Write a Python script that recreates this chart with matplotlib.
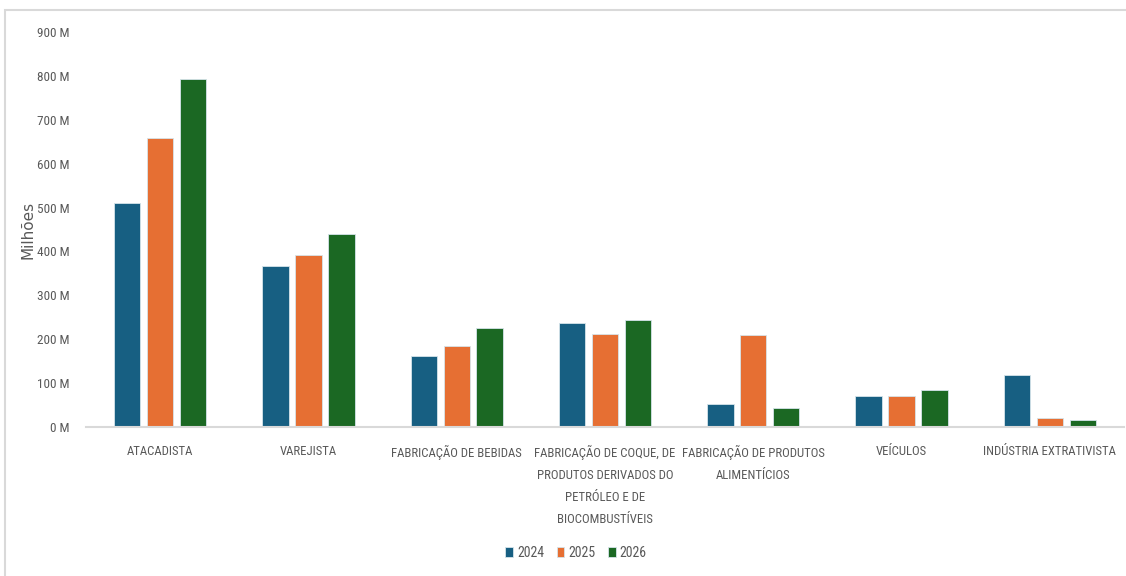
import matplotlib
matplotlib.use("Agg")
import matplotlib.pyplot as plt
import numpy as np
from matplotlib.patches import Rectangle
from matplotlib.ticker import FuncFormatter, MultipleLocator

categories = [
    "ATACADISTA",
    "VAREJISTA",
    "FABRICAÇÃO DE BEBIDAS",
    "FABRICAÇÃO DE COQUE, DE\nPRODUTOS DERIVADOS DO\nPETRÓLEO E DE\nBIOCOMBUSTÍVEIS",
    "FABRICAÇÃO DE PRODUTOS\nALIMENTÍCIOS",
    "VEÍCULOS",
    "INDÚSTRIA EXTRATIVISTA",
]
years = ["2024", "2025", "2026"]
# values in millions
v2024 = [510, 367, 162, 236, 52, 71, 118]
v2025 = [658, 391, 184, 212, 210, 71, 20]
v2026 = [792, 439, 225, 244, 43, 84, 17]
colors = ["#175F82", "#E66F33", "#1B6823"]

plt.rcParams["font.family"] = ["Roboto Condensed", "Roboto", "DejaVu Sans"]
text_color = "#595959"

fig = plt.figure(figsize=(11.26, 5.76), dpi=100)
fig.patches.append(Rectangle((5 / 1126, -0.1), 1.2, 1 - 10 / 576 + 0.1,
                             transform=fig.transFigure, fill=False,
                             edgecolor="#D9D9D9", linewidth=1.5))

ax = fig.add_axes([86 / 1126, 1 - 427 / 576, 1038 / 1126, 395 / 576])
x = np.arange(len(categories))
step = 0.222
width = 0.178
for i, (vals, yr, col) in enumerate(zip([v2024, v2025, v2026], years, colors)):
    ax.bar(x + (i - 1) * step, vals, width=width, color=col, label=yr,
           edgecolor="#D6E4EA", linewidth=0.6)

ax.set_xlim(-0.5, len(categories) - 0.5)
ax.set_ylim(0, 900)
ax.yaxis.set_major_locator(MultipleLocator(100))
ax.yaxis.set_major_formatter(FuncFormatter(lambda v, p: f"{v:.0f} M"))
ax.set_xticks(x)
ax.set_xticklabels(categories, linespacing=1.9)
ax.tick_params(axis="x", length=0, pad=13, labelsize=9.2, labelcolor=text_color)
ax.tick_params(axis="y", length=0, pad=12, labelsize=9.5, labelcolor=text_color)
for s in ["top", "right", "left"]:
    ax.spines[s].set_visible(False)
ax.spines["bottom"].set_color("#D9D9D9")
ax.spines["bottom"].set_linewidth(1.5)

fig.text(28 / 1126, 1 - 230 / 576, "Milhões", rotation=90, ha="center", va="center",
         color=text_color, fontsize=11, family="DejaVu Sans")

ax.legend(loc="center", bbox_to_anchor=(576 / 1126, 1 - 553 / 576),
          bbox_transform=fig.transFigure, ncol=3, frameon=False,
          handlelength=0.55, handleheight=0.75, handletextpad=0.3, columnspacing=0.9,
          fontsize=10, labelcolor=text_color)

fig.savefig("out.png", dpi=100)
